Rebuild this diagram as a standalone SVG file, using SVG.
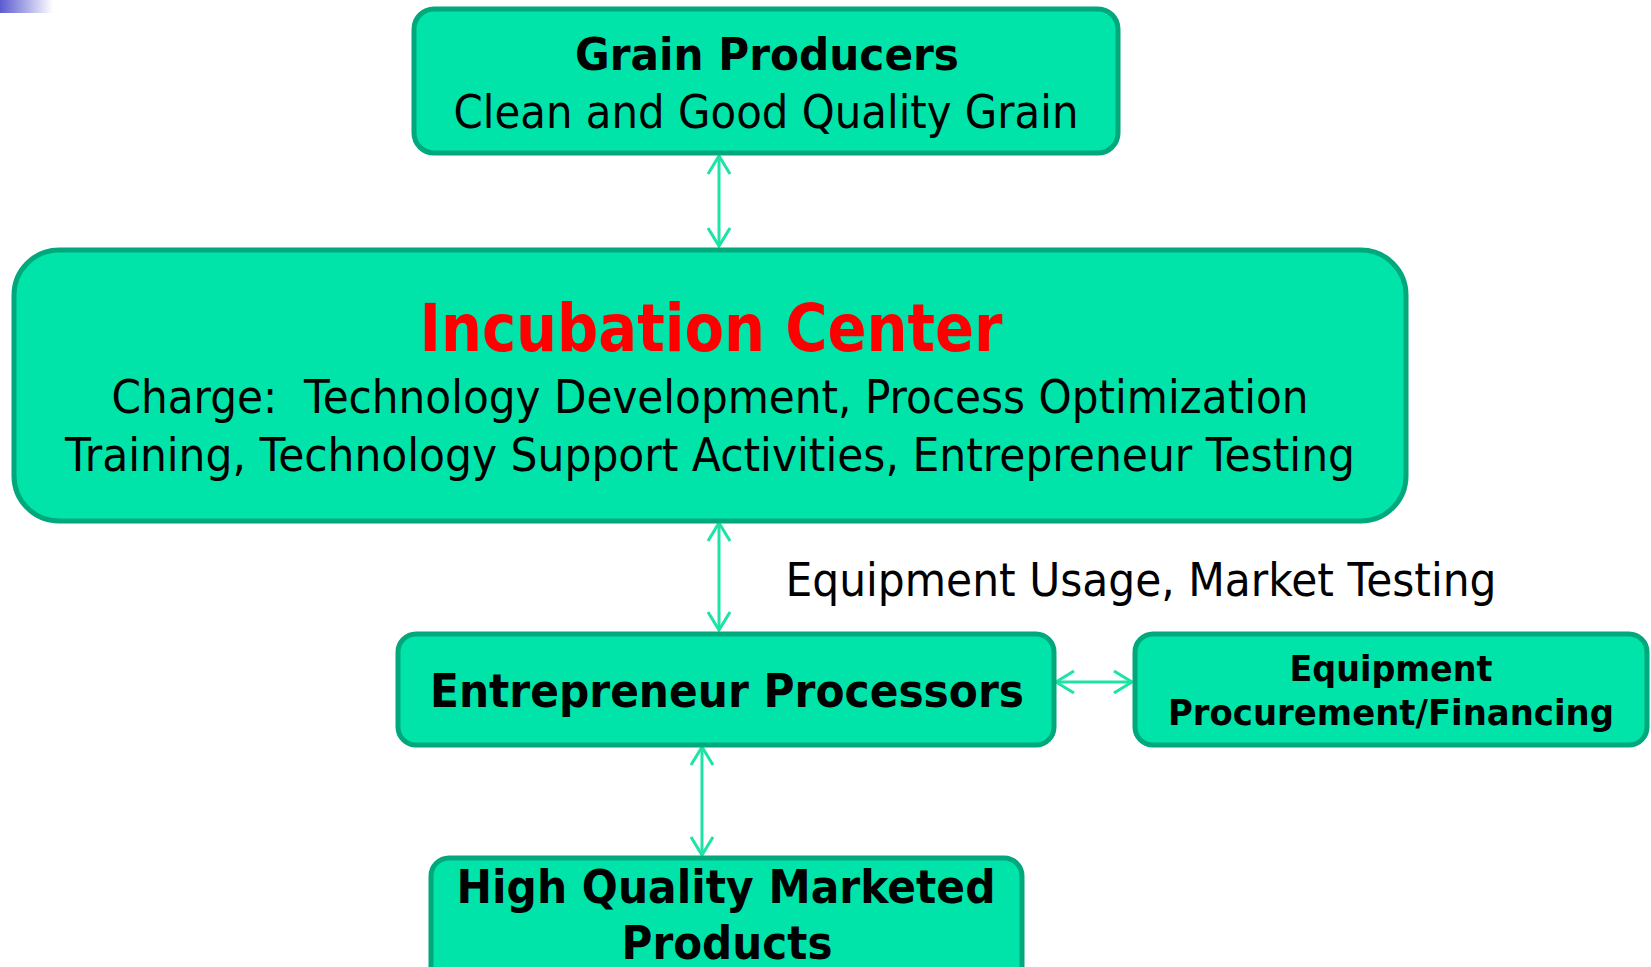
<svg xmlns="http://www.w3.org/2000/svg" width="1651" height="967" viewBox="0 0 1651 967">
<defs>
<linearGradient id="g" x1="0" y1="0" x2="1" y2="0">
<stop offset="0" stop-color="#5b5bd0"/>
<stop offset="1" stop-color="#ffffff"/>
</linearGradient>
<marker id="ah" viewBox="0 0 24 24" markerUnits="userSpaceOnUse" markerWidth="24" markerHeight="24" refX="20" refY="12" orient="auto-start-reverse">
<polyline points="2,1 20,12 2,23" fill="none" stroke="#1ee3a7" stroke-width="3"/>
</marker>
<style>
.box{fill:#00e4aa;stroke:#00a87c;stroke-width:5}
.t{font-family:"DejaVu Sans","Liberation Sans",sans-serif;fill:#000;text-anchor:middle}
.b{font-weight:bold}
.c{fill:none;stroke:#1ee3a7;stroke-width:3}
</style>
</defs>
<rect x="0" y="0" width="53" height="13" fill="url(#g)"/>
<g id="connectors">
<line class="c" x1="719" y1="156" x2="719" y2="246" marker-start="url(#ah)" marker-end="url(#ah)"/>
<line class="c" x1="719" y1="523" x2="719" y2="630" marker-start="url(#ah)" marker-end="url(#ah)"/>
<line class="c" x1="702" y1="747" x2="702" y2="855" marker-start="url(#ah)" marker-end="url(#ah)"/>
<line class="c" x1="1056" y1="682" x2="1132" y2="682" marker-start="url(#ah)" marker-end="url(#ah)"/>
</g>
<g id="grain">
<rect class="box" x="414" y="9" width="704" height="144" rx="20"/>
<text class="t b" x="767" y="70" font-size="45" textLength="384" lengthAdjust="spacingAndGlyphs">Grain Producers</text>
<text class="t" x="766" y="128" font-size="47" textLength="625" lengthAdjust="spacingAndGlyphs">Clean and Good Quality Grain</text>
</g>
<g id="incubation">
<rect class="box" x="14" y="250" width="1392" height="271" rx="45"/>
<text class="t b" x="711" y="351" font-size="65" style="fill:#ff0000" textLength="583" lengthAdjust="spacingAndGlyphs">Incubation Center</text>
<text class="t" x="710" y="413" font-size="47" textLength="1197" lengthAdjust="spacingAndGlyphs" xml:space="preserve">Charge:  Technology Development, Process Optimization</text>
<text class="t" x="710" y="471" font-size="47" textLength="1290" lengthAdjust="spacingAndGlyphs">Training, Technology Support Activities, Entrepreneur Testing</text>
</g>
<g id="label">
<text class="t" x="1141" y="596" font-size="47" textLength="711" lengthAdjust="spacingAndGlyphs">Equipment Usage, Market Testing</text>
</g>
<g id="entrepreneur">
<rect class="box" x="398" y="634" width="656" height="111" rx="18"/>
<text class="t b" x="727" y="707" font-size="47" textLength="594" lengthAdjust="spacingAndGlyphs">Entrepreneur Processors</text>
</g>
<g id="equipment">
<rect class="box" x="1135" y="634" width="512" height="111" rx="18"/>
<text class="t b" x="1391" y="681" font-size="35" textLength="203" lengthAdjust="spacingAndGlyphs">Equipment</text>
<text class="t b" x="1391" y="725" font-size="35" textLength="446" lengthAdjust="spacingAndGlyphs">Procurement/Financing</text>
</g>
<g id="products">
<rect class="box" x="431" y="858" width="591" height="130" rx="18"/>
<text class="t b" x="726" y="903" font-size="47" textLength="539" lengthAdjust="spacingAndGlyphs">High Quality Marketed</text>
<text class="t b" x="727" y="959" font-size="47" textLength="211" lengthAdjust="spacingAndGlyphs">Products</text>
</g>
</svg>
